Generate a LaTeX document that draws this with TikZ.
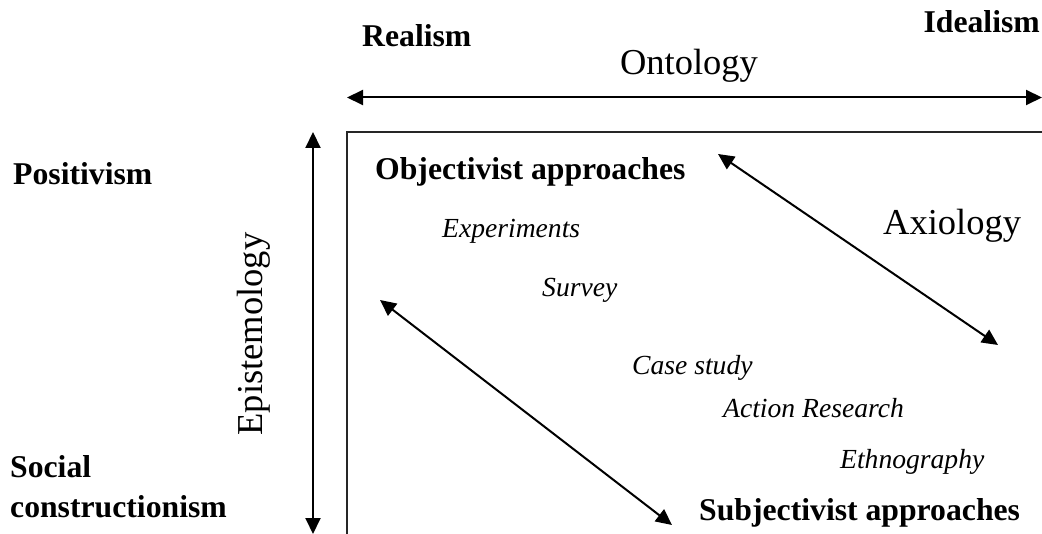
\documentclass[tikz,border=0pt]{standalone}
\usepackage{fontspec}
\setmainfont{Liberation Serif}
\usetikzlibrary{arrows.meta}
\tikzset{
  boldlbl/.style={inner sep=0pt, font=\fontsize{31.7}{36}\selectfont\bfseries},
  itlbl/.style={inner sep=0pt, font=\fontsize{27.6}{32}\selectfont\itshape},
  biglbl/.style={inner sep=0pt, font=\fontsize{36.5}{42}\selectfont},
  dbl/.style={line width=2pt, {Triangle[length=16pt,width=15pt]}-{Triangle[length=16pt,width=15pt]}},
  frame/.style={line width=2pt, draw=black!85}
}
\begin{document}
\begin{tikzpicture}[x=1pt,y=-1pt]
\useasboundingbox (0,0) rectangle (1042,534);
% labels
\node[boldlbl, anchor=base west] (realism) at (362,47) {Realism};
\node[biglbl, anchor=base] (ontology) at (689,75) {Ontology};
\node[boldlbl, anchor=base east] (idealism) at (1040,33) {Idealism};
\node[boldlbl, anchor=base west] (positivism) at (13,185) {Positivism};
\node[boldlbl, anchor=base west, align=left] (social) at (10,518) {Social\\[4pt]constructionism};
\node[biglbl, rotate=90, anchor=base] (episte) at (262,334) {Epistemology};
\node[boldlbl, anchor=base west] (objectivist) at (375,180) {Objectivist approaches};
\node[itlbl, anchor=base west] (experiments) at (442,238) {Experiments};
\node[itlbl, anchor=base west] (survey) at (542,297) {Survey};
\node[biglbl, anchor=base west] (axiology) at (883,235) {Axiology};
\node[itlbl, anchor=base west] (casestudy) at (632,375) {Case study};
\node[itlbl, anchor=base west] (action) at (723,418) {Action Research};
\node[itlbl, anchor=base west] (ethno) at (840,468) {Ethnography};
\node[boldlbl, anchor=base west] (subjectivist) at (699,520) {Subjectivist approaches};
% coordinates
\coordinate (hL) at (347,97.5);
\coordinate (hR) at (1042,97.5);
\coordinate (vT) at (313,132);
\coordinate (vB) at (313,534);
\coordinate (bTL) at (347,132);
\coordinate (bTR) at (1042,132);
\coordinate (bBL) at (347,534);
\coordinate (a1) at (718,154);
\coordinate (a2) at (998,345);
\coordinate (d1) at (380,300);
\coordinate (d2) at (672,525);
% frame
\draw[frame] (bTR) -- (bTL) -- (bBL);
% arrows
\draw[dbl] (hL) -- (hR);
\draw[dbl] (vT) -- (vB);
\draw[dbl] (a1) -- (a2);
\draw[dbl] (d1) -- (d2);
\end{tikzpicture}
\end{document}
